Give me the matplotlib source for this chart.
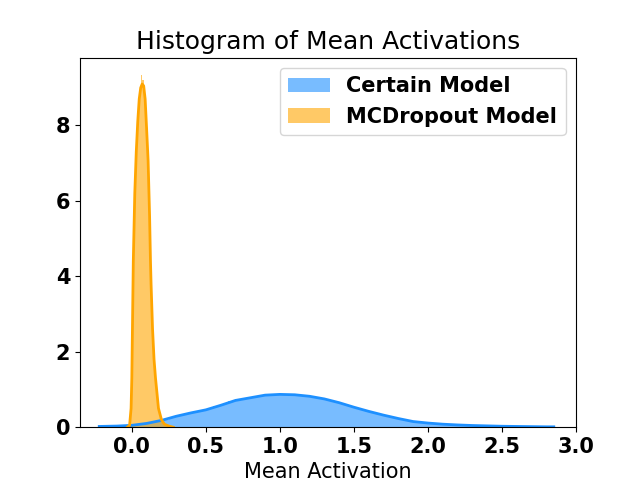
import matplotlib
matplotlib.use("Agg")
import matplotlib.pyplot as plt
import numpy as np

# Certain model: histogram bins (width 0.05) and kde curve
certain_bin_centers = [
    -0.175, -0.125, -0.075, -0.025, 0.025, 0.075, 0.125, 0.175, 0.225, 0.275,
    0.325, 0.375, 0.425, 0.475, 0.525, 0.575, 0.625, 0.675, 0.725, 0.775,
    0.825, 0.875, 0.925, 0.975, 1.025, 1.075, 1.125, 1.175, 1.225, 1.275,
    1.325, 1.375, 1.425, 1.475, 1.525, 1.575, 1.625, 1.675, 1.725, 1.775,
    1.825, 1.875, 1.925, 1.975, 2.025, 2.075, 2.125, 2.175, 2.225, 2.275,
    2.325, 2.375, 2.425, 2.475, 2.525, 2.575, 2.625, 2.675, 2.725, 2.775, 2.825,
]
certain_hist = [
    0.02, 0.03, 0.03, 0.04, 0.06, 0.08, 0.11, 0.15, 0.20, 0.26,
    0.32, 0.36, 0.40, 0.44, 0.49, 0.55, 0.62, 0.70, 0.74, 0.77,
    0.80, 0.84, 0.87, 0.87, 0.87, 0.86, 0.85, 0.83, 0.81, 0.77,
    0.73, 0.68, 0.62, 0.56, 0.50, 0.45, 0.39, 0.34, 0.29, 0.25,
    0.21, 0.17, 0.14, 0.12, 0.10, 0.09, 0.075, 0.065, 0.055, 0.048,
    0.042, 0.037, 0.032, 0.028, 0.024, 0.021, 0.018, 0.016, 0.013, 0.011, 0.01,
]
certain_kde_x = [
    -0.22, -0.1, 0.0, 0.1, 0.2, 0.3, 0.4, 0.5, 0.6, 0.7, 0.8, 0.9, 1.0, 1.1,
    1.2, 1.3, 1.4, 1.5, 1.6, 1.7, 1.8, 1.9, 2.0, 2.1, 2.2, 2.3, 2.4, 2.5,
    2.6, 2.7, 2.8, 2.85,
]
certain_kde_y = [
    0.02, 0.03, 0.05, 0.10, 0.18, 0.29, 0.38, 0.46, 0.58, 0.71, 0.78, 0.85,
    0.87, 0.86, 0.82, 0.75, 0.65, 0.53, 0.42, 0.32, 0.23, 0.15, 0.11, 0.08,
    0.06, 0.045, 0.035, 0.025, 0.02, 0.015, 0.01, 0.01,
]

# MCDropout model: histogram bins (width 0.01) and kde curve
mc_bin_centers = [
    -0.015, -0.005, 0.005, 0.015, 0.025, 0.035, 0.045, 0.055, 0.065, 0.075,
    0.085, 0.095, 0.105, 0.115, 0.125, 0.135, 0.145, 0.155, 0.165, 0.175,
    0.185, 0.195, 0.205, 0.215, 0.225, 0.235, 0.245, 0.255, 0.265, 0.275,
]
mc_hist = [
    0.03, 0.5, 2.6, 5.4, 7.0, 7.8, 8.4, 8.9, 9.35, 9.2,
    8.9, 8.3, 7.5, 6.3, 4.8, 3.3, 2.2, 1.5, 1.1, 0.7,
    0.4, 0.25, 0.15, 0.1, 0.07, 0.05, 0.03, 0.02, 0.01, 0.01,
]
mc_kde_x = [
    -0.03, -0.015, -0.005, 0.0, 0.01, 0.02, 0.03, 0.04, 0.05, 0.06, 0.07,
    0.08, 0.09, 0.10, 0.11, 0.12, 0.126, 0.13, 0.14, 0.15, 0.16, 0.17, 0.18,
    0.20, 0.22, 0.25, 0.28,
]
mc_kde_y = [
    0.0, 0.05, 0.5, 1.3, 4.4, 6.2, 7.3, 8.1, 8.7, 9.0, 9.1,
    9.05, 8.7, 7.9, 7.07, 5.6, 4.4, 3.8, 2.6, 1.8, 1.3, 0.9, 0.5,
    0.2, 0.08, 0.03, 0.0,
]

fig, ax = plt.subplots(figsize=(6.4, 4.8), dpi=100)

ax.bar(certain_bin_centers, certain_hist, width=0.05, color="dodgerblue",
       alpha=0.6, linewidth=0, label="Certain Model")
ax.plot(certain_kde_x, certain_kde_y, color="dodgerblue", lw=2)

ax.bar(mc_bin_centers, mc_hist, width=0.01, color="orange",
       alpha=0.6, linewidth=0, label="MCDropout Model")
ax.plot(mc_kde_x, mc_kde_y, color="orange", lw=2)

ax.set_xlim(-0.35, 3.0)
ax.set_ylim(0, 9.8)
ax.set_xticks(np.arange(0, 3.01, 0.5))
ax.set_yticks([0, 2, 4, 6, 8])
for lbl in ax.get_xticklabels() + ax.get_yticklabels():
    lbl.set_fontsize(15)
    lbl.set_fontweight("bold")

ax.set_title("Histogram of Mean Activations", fontsize=18)
ax.set_xlabel("Mean Activation", fontsize=15)
ax.legend(loc="upper right", prop={"size": 15, "weight": "bold"})

fig.savefig("out.png", dpi=100)
